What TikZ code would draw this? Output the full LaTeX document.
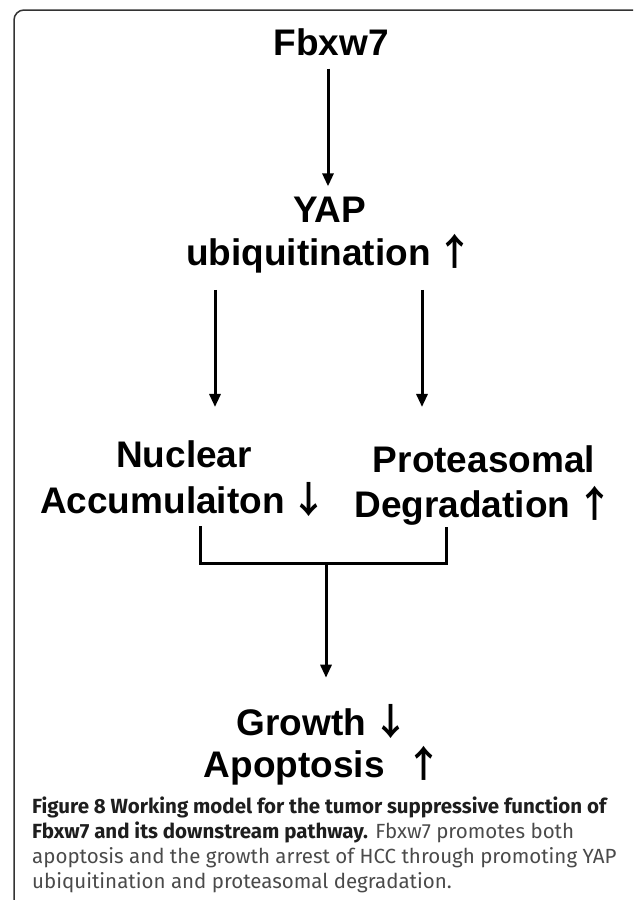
\documentclass[tikz,border=0pt]{standalone}
\usepackage{fontspec}
\setmainfont{Liberation Sans}
\newfontfamily\capfont{Fira Sans}
\newfontfamily\arrfont{Noto Sans CJK SC}[BoldFont={Noto Sans CJK SC Bold}]
\usetikzlibrary{arrows.meta}
\newcommand{\uparr}{{\arrfont\bfseries ↑}}
\newcommand{\dnarr}{{\arrfont\bfseries ↓}}
\definecolor{framegray}{HTML}{333333}
\definecolor{captitle}{HTML}{1E1E1E}
\definecolor{capbody}{HTML}{4A4A4A}
\begin{document}
\begin{tikzpicture}[x=1pt,y=-1pt,
  lbl/.style={font=\fontsize{37}{45}\selectfont\bfseries, align=center, inner sep=0pt, anchor=base},
  flow/.style={line width=3pt, -{Triangle[length=13pt,width=11pt]}},
  brk/.style={line width=3pt},
  frm/.style={line width=1.5pt, draw=framegray, rounded corners=10pt},
  captext/.style={font=\capfont\fontsize{20.5}{25}\selectfont, align=left, inner sep=0pt, anchor=base west, text=capbody},
]
\useasboundingbox (0,0) rectangle (633,900);
\begin{scope}
  \clip (0,0) rectangle (633,900);
  \draw[frm] (14,930) -- (14,10) -- (645,10) -- (645,930);
\end{scope}

\node[lbl] (fbx) at (331,55) {Fbxw7};
\node[lbl, font=\fontsize{37}{43}\selectfont\bfseries] (yap) at (330,265) {YAP\\ubiquitination\,\uparr};
\node[lbl, font=\fontsize{37}{46}\selectfont\bfseries] (nuc) at (184,513) {Nuclear\\Accumulaiton\,\dnarr};
\node[lbl, font=\fontsize{37}{45}\selectfont\bfseries] (pro) at (484,517) {Proteasomal\\Degradation\,\uparr};
\node[lbl, font=\fontsize{37}{42}\selectfont\bfseries] (gro) at (323,777) {Growth\,\dnarr\\Apoptosis\ \ \uparr};

\coordinate (j) at (326,563);

\draw[flow, shorten <=13pt, shorten >=10pt] (fbx.south -| 328,0) -- (yap.north -| 328,0);
\draw[flow, shorten <=17pt, shorten >=33pt] ([xshift=-115pt]yap.south) -- ([xshift=31pt]nuc.north);
\draw[flow, shorten <=17pt, shorten >=38pt] ([xshift=92pt]yap.south) -- ([xshift=-62pt]pro.north);
\draw[brk, shorten <=10pt, shorten >=2pt] (nuc.south -| 200,0) |- (j) -| (pro.south -| 446,0);
\draw[flow, shorten >=26pt] (j) -- (j |- gro.north);

\node[captext] (caption) at (32,888) {{\bfseries\color{captitle}Figure 8 Working model for the tumor suppressive function of}\\
{\bfseries\color{captitle}Fbxw7 and its downstream pathway.} Fbxw7 promotes both\\
apoptosis and the growth arrest of HCC through promoting YAP\\
ubiquitination and proteasomal degradation.};
\end{tikzpicture}
\end{document}
